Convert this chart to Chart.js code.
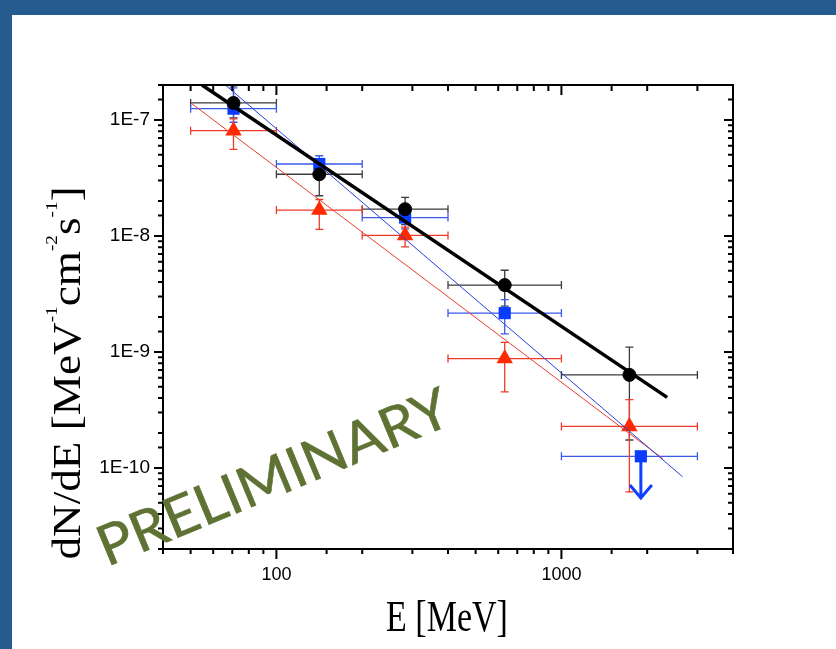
<!DOCTYPE html>
<html lang="en">
<head>
<meta charset="UTF-8">
<title>dN/dE spectrum</title>
<script src="https://cdn.jsdelivr.net/npm/chart.js"></script>
<style>
  html, body { margin: 0; padding: 0; background: #fff; }
  #wrap { width: 836px; height: 649px; }
</style>
</head>
<body>
<div id="wrap"><canvas id="spec" width="836" height="649"></canvas></div>
<script>
// energy bins [MeV]
const binLow = [50, 100, 200, 400, 1000];
const binHigh = [100, 200, 400, 1000, 3000];
const energy = [70.7, 141.4, 282.8, 632.5, 1732];
const squareEnergy = [70.7, 141.4, 282.8, 632.5, 1900];

// circles
const circleFlux = [1.40e-7, 3.40e-8, 1.70e-8, 3.77e-9, 6.34e-10];
const circleHi = [1.97e-7, 4.60e-8, 2.15e-8, 5.06e-9, 1.10e-9];
const circleLo = [1.04e-7, 2.22e-8, 1.25e-8, 2.48e-9, 1.74e-10];

// squares (last one is an upper limit)
const squareFlux = [1.25e-7, 4.17e-8, 1.44e-8, 2.16e-9, 1.26e-10];
const squareHi = [1.89e-7, 4.91e-8, 1.73e-8, 2.82e-9, null];
const squareLo = [9.55e-8, 3.45e-8, 1.15e-8, 1.43e-9, null];
const limitArrowTo = 5.5e-11;

// triangles
const triFlux = [8.08e-8, 1.67e-8, 1.01e-8, 8.77e-10, 2.28e-10];
const triHi = [1.02e-7, 2.06e-8, 1.19e-8, 1.21e-9, 3.88e-10];
const triLo = [5.58e-8, 1.14e-8, 8.04e-9, 4.52e-10, 6.21e-11];

// power-law fits, end points [E, dN/dE]
const fitCircle = [[54.8, 2.0e-7], [2350, 4.06e-10]];
const fitSquare = [[66.2, 2.0e-7], [2660, 8.4e-11]];
const fitTriangle = [[50.1, 1.40e-7], [2270, 1.20e-10]];

const toPts = (xs, ys) => xs.map((x, i) => ({ x: x, y: ys[i] }));
const fitPts = f => f.map(p => ({ x: p[0], y: p[1] }));
const isDecade = v => Math.abs(Math.log10(v) - Math.round(Math.log10(v))) < 1e-6;

function errorBars(chart, xs, ys, lo, hi, color) {
    const ctx = chart.ctx, sx = chart.scales.x, sy = chart.scales.y;
    const cap = 4;
    ctx.save();
    ctx.strokeStyle = color;
    ctx.lineWidth = 1.3;
    for (let i = 0; i < xs.length; i++) {
        const px = sx.getPixelForValue(xs[i]);
        const py = sy.getPixelForValue(ys[i]);
        const x0 = sx.getPixelForValue(binLow[i]);
        const x1 = sx.getPixelForValue(binHigh[i]);
        ctx.beginPath();
        ctx.moveTo(x0, py); ctx.lineTo(x1, py);
        ctx.moveTo(x0, py - cap); ctx.lineTo(x0, py + cap);
        ctx.moveTo(x1, py - cap); ctx.lineTo(x1, py + cap);
        if (hi[i] != null) {
            const y0 = sy.getPixelForValue(hi[i]);
            const y1 = sy.getPixelForValue(lo[i]);
            ctx.moveTo(px, y0); ctx.lineTo(px, y1);
            ctx.moveTo(px - cap, y0); ctx.lineTo(px + cap, y0);
            ctx.moveTo(px - cap, y1); ctx.lineTo(px + cap, y1);
        }
        ctx.stroke();
    }
    ctx.restore();
}

function drawTicks(ctx, scale, a) {
    const isX = scale.axis === 'x';
    scale.ticks.forEach(t => {
        const p = scale.getPixelForValue(t.value);
        const major = isDecade(t.value);
        ctx.beginPath();
        if (isX) {
            // bottom: outward, top: inward
            ctx.moveTo(p, a.bottom); ctx.lineTo(p, a.bottom + (major ? 10 : 5));
            ctx.moveTo(p, a.top); ctx.lineTo(p, a.top + (major ? 10 : 6));
        } else {
            ctx.moveTo(a.left, p); ctx.lineTo(a.left - (major ? 9 : 5), p);
            ctx.moveTo(a.right, p); ctx.lineTo(a.right - (major ? 9 : 5), p);
        }
        ctx.stroke();
    });
}

const extras = {
    id: 'extras',
    beforeDraw(chart) {
        const ctx = chart.ctx;
        ctx.save();
        ctx.fillStyle = '#ffffff';
        ctx.fillRect(0, 0, chart.width, chart.height);
        ctx.fillStyle = '#265b8f';
        ctx.fillRect(0, 0, chart.width, 15);
        ctx.fillRect(0, 0, 12, chart.height);
        ctx.restore();
    },
    beforeDatasetsDraw(chart) {
        errorBars(chart, energy, circleFlux, circleLo, circleHi, '#3c3c3c');
        errorBars(chart, squareEnergy, squareFlux, squareLo, squareHi, '#3a5ae8');
        errorBars(chart, energy, triFlux, triLo, triHi, '#ee3a2a');
        // upper-limit arrow on the last square
        const ctx = chart.ctx, sx = chart.scales.x, sy = chart.scales.y;
        const i = squareEnergy.length - 1;
        const px = sx.getPixelForValue(squareEnergy[i]);
        const y0 = sy.getPixelForValue(squareFlux[i]);
        const y1 = sy.getPixelForValue(limitArrowTo);
        ctx.save();
        ctx.strokeStyle = '#1040ff';
        ctx.lineWidth = 3;
        ctx.beginPath();
        ctx.moveTo(px, y0); ctx.lineTo(px, y1);
        ctx.moveTo(px - 11, y1 - 13); ctx.lineTo(px, y1); ctx.lineTo(px + 11, y1 - 13);
        ctx.stroke();
        ctx.restore();
    },
    afterDatasetsDraw(chart) {
        const ctx = chart.ctx, a = chart.chartArea;
        ctx.save();
        ctx.strokeStyle = '#000';
        ctx.lineWidth = 2;
        ctx.strokeRect(a.left, a.top, a.right - a.left, a.bottom - a.top);
        drawTicks(ctx, chart.scales.x, a);
        drawTicks(ctx, chart.scales.y, a);
        ctx.restore();
    },
    afterDraw(chart) {
        const ctx = chart.ctx;
        const serif = '"Liberation Serif", "Times New Roman", serif';

        // x title
        ctx.save();
        ctx.fillStyle = '#000';
        ctx.translate(447, 631);
        ctx.scale(1, 1.3);
        ctx.font = '34px ' + serif;
        ctx.textAlign = 'center';
        ctx.textBaseline = 'alphabetic';
        ctx.fillText('E [MeV]', 0, 0);
        ctx.restore();

        // y title with superscripts
        const parts = [['dN/dE [MeV', false], ['-1', true], ['cm', false], ['-2', true],
                       ['s', false], ['-1', true], [']', false]];
        const mainFont = '40px ' + serif, supFont = '17px ' + serif;
        ctx.save();
        ctx.fillStyle = '#000';
        ctx.translate(80, 373);
        ctx.rotate(-Math.PI / 2);
        ctx.scale(1.13, 1);
        let total = 0;
        parts.forEach(p => { ctx.font = p[1] ? supFont : mainFont; total += ctx.measureText(p[0]).width; });
        let x = -total / 2;
        ctx.textBaseline = 'alphabetic';
        parts.forEach(p => {
            ctx.font = p[1] ? supFont : mainFont;
            ctx.fillText(p[0], x, p[1] ? -23 : 0);
            x += ctx.measureText(p[0]).width;
        });
        ctx.restore();

        // watermark, condensed to fit its run
        const wmFont = '56px Lato, "Open Sans", sans-serif';
        ctx.save();
        ctx.fillStyle = '#5e7233';
        ctx.strokeStyle = '#5e7233';
        ctx.lineWidth = 0.6;
        ctx.translate(107, 567);
        ctx.rotate(-22.5 * Math.PI / 180);
        ctx.font = wmFont;
        const w = ctx.measureText('PRELIMINARY').width;
        ctx.scale(376 / w, 1);
        ctx.textBaseline = 'alphabetic';
        ctx.fillText('PRELIMINARY', 0, 0);
        ctx.strokeText('PRELIMINARY', 0, 0);
        ctx.restore();
    }
};

new Chart(document.getElementById('spec'), {
    type: 'scatter',
    data: {
        datasets: [
            { data: fitPts(fitCircle), showLine: true, borderColor: '#000', borderWidth: 3.5, pointRadius: 0 },
            { data: fitPts(fitSquare), showLine: true, borderColor: '#2a40dc', borderWidth: 1, pointRadius: 0 },
            { data: fitPts(fitTriangle), showLine: true, borderColor: '#e8402e', borderWidth: 1, pointRadius: 0 },
            { data: toPts(energy, circleFlux), pointStyle: 'circle', pointRadius: 6.5,
              backgroundColor: '#000', borderColor: '#000', borderWidth: 1 },
            { data: toPts(squareEnergy, squareFlux), pointStyle: 'rect', pointRadius: 8.6,
              backgroundColor: '#0a3cff', borderColor: '#0a3cff', borderWidth: 0 },
            { data: toPts(energy, triFlux), pointStyle: 'triangle', pointRadius: 9.5,
              backgroundColor: '#ff2a00', borderColor: '#ff2a00', borderWidth: 0 }
        ]
    },
    options: {
        responsive: false,
        animation: false,
        layout: { padding: { left: 0, top: 85, right: 103, bottom: 0 } },
        plugins: { legend: { display: false }, tooltip: { enabled: false } },
        scales: {
            x: {
                type: 'logarithmic',
                min: 40, max: 4000,
                afterFit: s => { s.height = 100; },
                grid: { drawOnChartArea: false, drawTicks: true, tickLength: 10, color: 'transparent' },
                border: { display: false },
                ticks: {
                    autoSkip: false, maxRotation: 0, padding: 5, color: '#000',
                    font: { family: '"Liberation Sans", Arial, sans-serif', size: 18 },
                    callback: v => isDecade(v) ? String(Math.round(v)) : ''
                }
            },
            y: {
                type: 'logarithmic',
                min: 2e-11, max: 2e-7,
                afterFit: s => { s.width = 163; },
                grid: { drawOnChartArea: false, drawTicks: true, tickLength: 9, color: 'transparent' },
                border: { display: false },
                ticks: {
                    autoSkip: false, padding: 4, color: '#000',
                    font: { family: '"Liberation Sans", Arial, sans-serif', size: 19 },
                    callback: v => isDecade(v) ? '1E' + Math.round(Math.log10(v)) : ''
                }
            }
        }
    },
    plugins: [extras]
});
</script>
</body>
</html>
